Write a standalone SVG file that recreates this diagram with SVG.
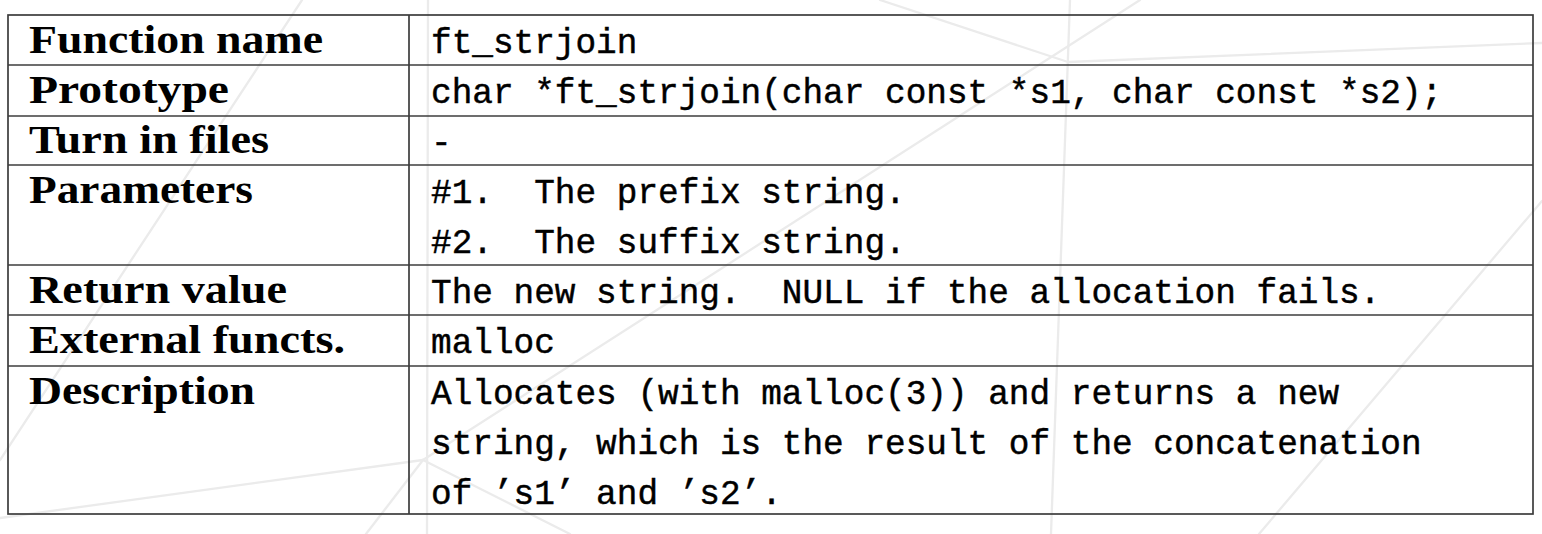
<svg xmlns="http://www.w3.org/2000/svg" width="1542" height="534" viewBox="0 0 1542 534">
<style>
.bg{stroke:#ebebeb;stroke-width:2.3;fill:none;stroke-linecap:round}
.grid{stroke:#3c3c3c;stroke-width:1.7;fill:none}
.lbl{font-family:"Liberation Serif","Times New Roman",serif;font-weight:bold;font-size:41px;fill:#000}
.val{font-family:"Liberation Mono","Courier New",monospace;font-size:34.4px;fill:#000;stroke:#000;stroke-width:0.45;white-space:pre}
</style>
<rect width="1542" height="534" fill="#ffffff"/>
<g id="background">
<line class="bg" x1="302" y1="0" x2="0" y2="460"/>
<line class="bg" x1="428" y1="0" x2="427" y2="534"/>
<line class="bg" x1="1140" y1="0" x2="423" y2="460"/>
<line class="bg" x1="0" y1="518" x2="423" y2="460"/>
<line class="bg" x1="423" y1="460" x2="366" y2="534"/>
<line class="bg" x1="423" y1="460" x2="570" y2="534"/>
<line class="bg" x1="1070" y1="0" x2="1051" y2="534"/>
<line class="bg" x1="880" y1="0" x2="1068" y2="62"/>
<line class="bg" x1="1068" y1="62" x2="1542" y2="43"/>
<line class="bg" x1="1542" y1="201" x2="1259" y2="534"/>
</g>
<g id="table">
<rect class="grid" x="8" y="15" width="1525" height="499"/>
<line class="grid" x1="409" y1="15" x2="409" y2="514"/>
<line class="grid" x1="8" y1="65" x2="1533" y2="65"/>
<line class="grid" x1="8" y1="116" x2="1533" y2="116"/>
<line class="grid" x1="8" y1="165" x2="1533" y2="165"/>
<line class="grid" x1="8" y1="265" x2="1533" y2="265"/>
<line class="grid" x1="8" y1="315" x2="1533" y2="315"/>
<line class="grid" x1="8" y1="366" x2="1533" y2="366"/>
</g>
<g id="row-function-name">
<text class="lbl" x="29" y="52.5" textLength="294" lengthAdjust="spacingAndGlyphs">Function name</text>
<text class="val" x="431" y="52.5">ft_strjoin</text>
</g>
<g id="row-prototype">
<text class="lbl" x="29" y="103" textLength="200" lengthAdjust="spacingAndGlyphs">Prototype</text>
<text class="val" x="431" y="103">char *ft_strjoin(char const *s1, char const *s2);</text>
</g>
<g id="row-turn-in">
<text class="lbl" x="29" y="153" textLength="240" lengthAdjust="spacingAndGlyphs">Turn in files</text>
<text class="val" x="431" y="153">-</text>
</g>
<g id="row-parameters">
<text class="lbl" x="29" y="202.5" textLength="224" lengthAdjust="spacingAndGlyphs">Parameters</text>
<text class="val" x="431" y="202.5">#1.  The prefix string.</text>
<text class="val" x="431" y="252.5">#2.  The suffix string.</text>
</g>
<g id="row-return">
<text class="lbl" x="29" y="302.5" textLength="258" lengthAdjust="spacingAndGlyphs">Return value</text>
<text class="val" x="431" y="302.5">The new string.  NULL if the allocation fails.</text>
</g>
<g id="row-external">
<text class="lbl" x="29" y="353" textLength="316" lengthAdjust="spacingAndGlyphs">External functs.</text>
<text class="val" x="431" y="353">malloc</text>
</g>
<g id="row-description">
<text class="lbl" x="29" y="403.5" textLength="226" lengthAdjust="spacingAndGlyphs">Description</text>
<text class="val" x="431" y="403.5">Allocates (with malloc(3)) and returns a new</text>
<text class="val" x="431" y="453.5">string, which is the result of the concatenation</text>
<text class="val" x="431" y="503.5">of ’s1’ and ’s2’.</text>
</g>
</svg>
